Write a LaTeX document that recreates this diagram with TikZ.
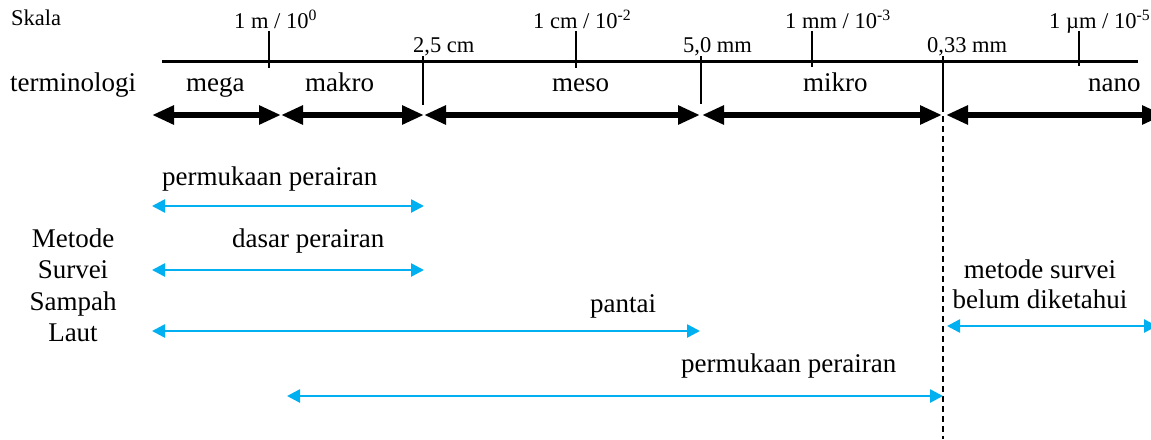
\documentclass[tikz,border=0pt]{standalone}
\usepackage{fontspec}
\setmainfont{Liberation Serif}
\usetikzlibrary{arrows.meta}
\definecolor{surveyblue}{RGB}{0,176,240}
\tikzset{
  big/.style={inner sep=0pt, anchor=base west, font=\fontsize{27}{31}\selectfont},
  small/.style={inner sep=0pt, anchor=base west, font=\fontsize{22.5}{26}\selectfont},
  axisline/.style={line width=3pt},
  tickline/.style={line width=2pt},
  rangearrow/.style={line width=6pt, {Triangle[length=22pt,width=18pt]}-{Triangle[length=22pt,width=18pt]}},
  methodarrow/.style={surveyblue, line width=2.6pt, {Triangle[length=13pt,width=13pt]}-{Triangle[length=13pt,width=13pt]}},
  limitline/.style={line width=1.4pt, dash pattern=on 6pt off 4pt},
}
\begin{document}
\begin{tikzpicture}[x=1pt, y=-1pt]
\useasboundingbox (0,0) rectangle (1151,439);

% scale axis
\coordinate (axL) at (162,61);
\coordinate (axR) at (1138,61);
\draw[axisline] (axL) -- (axR);

% decade ticks
\coordinate (tmT) at (269,31);  \coordinate (tmB) at (269,68);
\coordinate (tcT) at (576,31);  \coordinate (tcB) at (576,68);
\coordinate (tmmT) at (812,31); \coordinate (tmmB) at (812,67);
\coordinate (tuT) at (1079,31); \coordinate (tuB) at (1079,66);
\draw[tickline] (tmT) -- (tmB);
\draw[tickline] (tcT) -- (tcB);
\draw[tickline] (tmmT) -- (tmmB);
\draw[tickline] (tuT) -- (tuB);

% class boundaries
\coordinate (b1T) at (423,56);  \coordinate (b1B) at (423,105);
\coordinate (b2T) at (701,56);  \coordinate (b2B) at (701,104);
\coordinate (b3T) at (943,56);  \coordinate (b3B) at (943,106);
\coordinate (b3E) at (943,439);
\draw[tickline] (b1T) -- (b1B);
\draw[tickline] (b2T) -- (b2B);
\draw[tickline] (b3T) -- (b3B);
\draw[limitline] (b3B) -- (b3E);

% scale labels
\node[small] (skala) at (11,25) {Skala};
\node[small] (lm) at (234,28) {1 m / 10\textsuperscript{0}};
\node[small] (lcm) at (533,28) {1 cm / 10\textsuperscript{-2}};
\node[small] (lmm) at (785,28) {1 mm / 10\textsuperscript{-3}};
\node[small] (lum) at (1049,28) {1 µm / 10\textsuperscript{-5}};
\node[small] (l25) at (413,52) {2,5 cm};
\node[small] (l50) at (683,52) {5,0 mm};
\node[small] (l033) at (927,52) {0,33 mm};

% terminology
\node[big] (term) at (10,91) {terminologi};
\node[big] (mega) at (186,91) {mega};
\node[big] (makro) at (305,91) {makro};
\node[big] (meso) at (552,91) {meso};
\node[big] (mikro) at (803,91) {mikro};
\node[big] (nano) at (1088,91) {nano};

\coordinate (r0) at (152,115);
\coordinate (r1) at (281,115);
\coordinate (r2) at (424,115);
\coordinate (r3) at (700,115);
\coordinate (r3b) at (702,115);
\coordinate (r4) at (942,115);
\coordinate (r5) at (946,115);
\coordinate (r6) at (1164,115);
\draw[rangearrow] (r0) -- (r1);
\draw[rangearrow] (r1) -- (r2);
\draw[rangearrow] (r2) -- (r3);
\draw[rangearrow] (r3b) -- (r4);
\draw[rangearrow] (r5) -- (r6);

% survey methods
\node[big, anchor=base] (met1) at (73,247) {Metode};
\node[big, anchor=base] (met2) at (73,278) {Survei};
\node[big, anchor=base] (met3) at (73,310) {Sampah};
\node[big, anchor=base] (met4) at (73,341) {Laut};

\node[big] (surf1) at (162,185) {permukaan perairan};
\coordinate (s1L) at (152,206); \coordinate (s1R) at (424,206);
\draw[methodarrow] (s1L) -- (s1R);

\node[big] (dasar) at (232,247) {dasar perairan};
\coordinate (s2L) at (152,270); \coordinate (s2R) at (424,270);
\draw[methodarrow] (s2L) -- (s2R);

\node[big] (pantai) at (590,312) {pantai};
\coordinate (s3L) at (152,331); \coordinate (s3R) at (700,331);
\draw[methodarrow] (s3L) -- (s3R);

\node[big] (surf2) at (681,372) {permukaan perairan};
\coordinate (s4L) at (287,396); \coordinate (s4R) at (943,396);
\draw[methodarrow] (s4L) -- (s4R);

\node[big, anchor=base] (unk1) at (1040,278) {metode survei};
\node[big, anchor=base] (unk2) at (1040,308) {belum diketahui};
\coordinate (s5L) at (947,326); \coordinate (s5R) at (1157,326);
\draw[methodarrow] (s5L) -- (s5R);
\end{tikzpicture}
\end{document}
